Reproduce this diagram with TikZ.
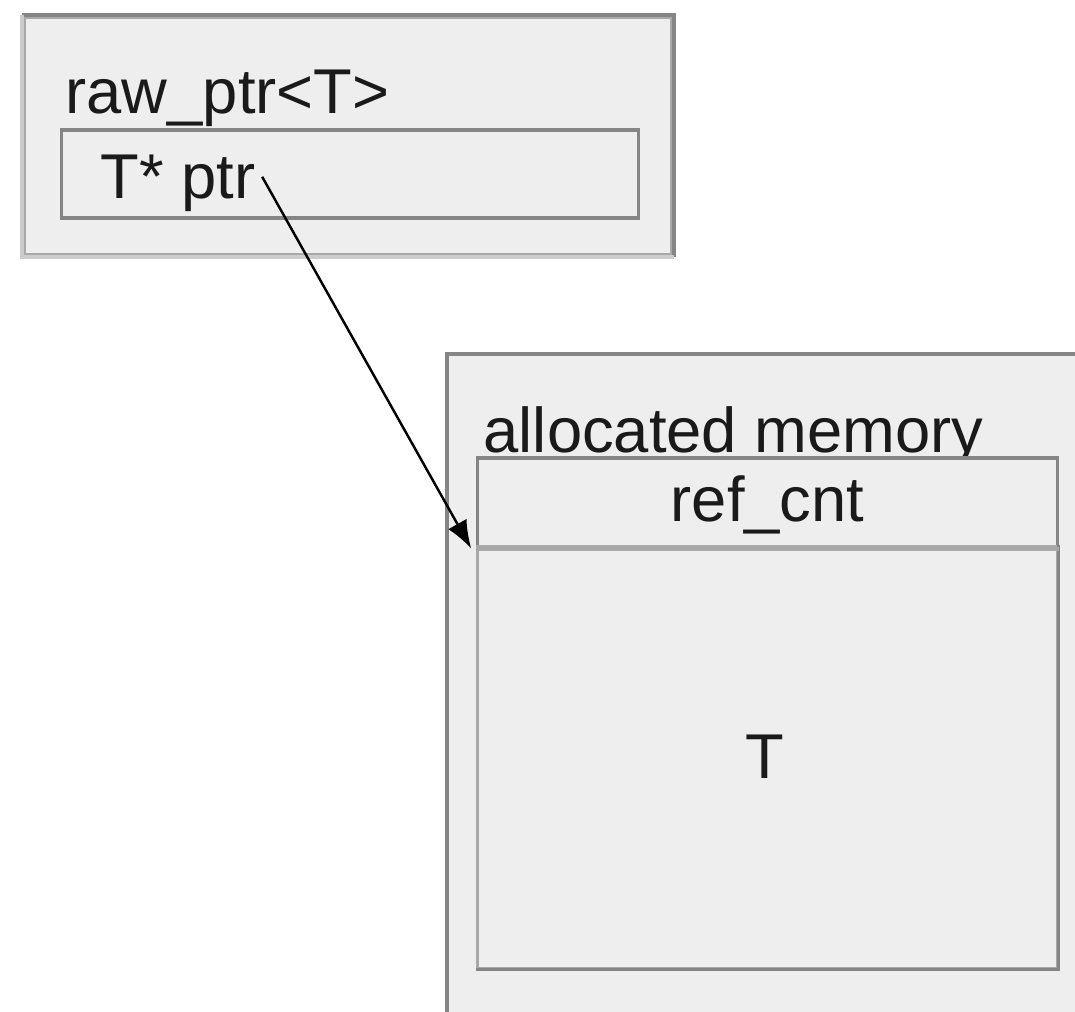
\documentclass[tikz,border=0pt]{standalone}
\usepackage{fontspec}
\setmainfont{Liberation Sans}
\usetikzlibrary{arrows.meta}
\definecolor{boxfill}{HTML}{EEEEEE}
\definecolor{edgedark}{HTML}{858585}
\definecolor{edgelight}{HTML}{CCCCCC}
\definecolor{edgemid}{HTML}{A8A8A8}
\definecolor{ink}{HTML}{1A1A1A}
\tikzset{
  panel/.style={rectangle, inner sep=0pt, fill=boxfill, draw=edgemid, line width=1.1pt},
  cell/.style={rectangle, inner sep=0pt, fill=boxfill, draw=edgedark, line width=0.9pt},
  txt/.style={inner sep=0pt, text=ink, font=\fontsize{18}{21}\selectfont},
  pointer/.style={draw=black, line width=0.7pt, -{Latex[length=8pt,width=6pt]}},
}
\begin{document}
\begin{tikzpicture}[x=0.01cm, y=0.01cm]
\useasboundingbox (0,0) rectangle (1075,-1011);
\clip (0,0) rectangle (1075,-1011);
\fill[white] (0,0) rectangle (1075,-1011);

% raw_ptr<T> object
\node[panel, minimum width=6.48cm, minimum height=2.38cm] (rawptr) at (348,-136) {};
\draw[edgedark, line width=1.1pt] (rawptr.north west) -- (rawptr.north east) -- (rawptr.south east);
\draw[edgelight, line width=1.1pt] (rawptr.north west) -- (rawptr.south west) -- (rawptr.south east);
\node[txt, anchor=base west] (rawname) at (65,-113) {raw\_ptr<T>};
\node[cell, minimum width=5.76cm, minimum height=0.88cm] (ptrfield) at (350,-174) {};
\node[txt, anchor=base west] (ptrtext) at (100,-198) {T* ptr};

% allocated memory block
\node[panel, draw=edgedark, minimum width=6.60cm, minimum height=6.80cm, anchor=north west] (heap) at (445,-352) {};
\node[txt, anchor=base west] (heapname) at (483,-452) {allocated memory};
\node[cell, minimum width=5.79cm, minimum height=0.89cm] (refcell) at (767.5,-502.5) {};
\node[cell, draw=edgemid, minimum width=5.79cm, minimum height=4.21cm] (objcell) at (767.5,-757.5) {};
\draw[edgedark, line width=0.9pt] (objcell.south west) -- (objcell.south east) -- (objcell.north east);
\draw[edgemid, line width=1.1pt] (refcell.south west) -- (refcell.south east);
\node[txt] (refname) at (767.5,-505) {ref\_cnt};
\node[txt] (objname) at (765,-757) {T};

% pointer from ptr to the object
\draw[pointer] ([xshift=0.06cm, yshift=0.06cm]ptrtext.east) -- ([xshift=-0.05cm]refcell.south west);
\end{tikzpicture}
\end{document}
